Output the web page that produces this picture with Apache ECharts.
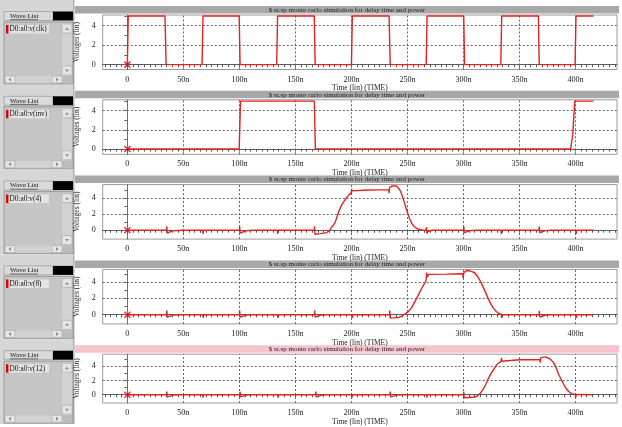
<!DOCTYPE html>
<html><head><meta charset="utf-8">
<script src="https://cdn.jsdelivr.net/npm/echarts@6/dist/echarts.min.js"></script>
<style>html,body{margin:0;padding:0;background:#fff}#c{width:622px;height:427px}</style>
</head><body><div id="c"></div>
<script>
// ---------- data ----------
const xTickValues = [0, 50, 100, 150, 200, 250, 300, 350, 400];
const yTickValues = [0, 2, 4];
const panelLabels = ['D0:a0:v(clk)', 'D0:a0:v(inv)', 'D0:a0:v(4)', 'D0:a0:v(8)', 'D0:a0:v(12)'];
const titleText = '$ sr.sp monte carlo simulation for delay time and power';
const xAxisName = 'Time (lin) (TIME)';
const yAxisName = 'Voltages (lin)';
const startMarker = [[0, 0]];

const clkWave = [[0,0],[0.8,5],[33.6,5],[34.6,0],[66.7,0],[67.5,5],[99.8,5],[100.6,0],[133.3,0],[134.1,5],
  [166.8,5],[167.6,0],[200,0],[200.8,5],[233.6,5],[234.6,0],[266.7,0],[267.5,5],[300.2,5],[301,0],
  [333.3,0],[334.1,5],[366.8,5],[367.6,0],[399.6,0],[400.4,5],[416,5]];

const invWave = [[0,0],[99.8,0],[101,5],[166.9,5],[167.8,0],[395.6,0],[397.5,1.5],[399.3,5],[416,5]];

const v4Wave = [[0,0],[35,0],[35.2,0.5],[35.6,-0.35],[37,-0.18],[40,-0.08],[45,-0.03],[50,0],
  [67.2,0],[67.5,-0.45],[67.8,0],
  [100,0],[100.2,0.5],[100.6,-0.35],[102,-0.18],[106,-0.06],[112,0],
  [133.8,0],[134.1,-0.45],[134.4,0],
  [166.8,0],[167,0.5],[167.4,-0.5],[172,-0.42],[178,-0.3],[181,0.1],[185.4,0.95],[188.4,2.2],
  [191.4,3.2],[195.3,4.0],[199.4,4.65],[199.9,4.4],[200.1,5.15],[200.6,4.9],[202,5.0],[215,5.0],
  [233.3,5.05],[233.6,4.6],[234,5.3],[236,5.5],[237.5,5.58],[240,5.5],[242,5.25],[244,4.8],
  [246,4.0],[248,3.1],[250,2.2],[252,1.4],[254,0.8],[256.5,0.4],[259,0.15],[263,0.05],
  [266.7,0],[267,0.4],[267.4,-0.4],[268.5,-0.12],[272,0],
  [300,0],[300.3,0.45],[300.7,-0.3],[302,-0.14],[306,-0.04],[311,0],
  [333.4,0],[333.7,-0.45],[334,0],
  [367.4,0],[367.6,0.45],[368,-0.3],[369.5,-0.14],[373,-0.04],[378,0],
  [400.3,0],[400.6,-0.45],[400.9,0],[416,0]];

const v8Wave = [[0,0],[35,0],[35.2,0.5],[35.6,-0.28],[37,-0.14],[41,-0.05],[46,0],
  [67.5,0],[67.8,-0.4],[68.1,0],
  [100,0],[100.2,0.5],[100.6,-0.28],[102,-0.14],[106,-0.05],[111,0],
  [134,0],[134.3,-0.4],[134.6,0],
  [167,0],[167.2,0.5],[167.6,-0.28],[169,-0.14],[173,-0.05],[178,0],
  [200.5,0],[200.8,-0.4],[201.1,0],
  [234,0],[234.2,0.5],[234.6,-0.42],[238,-0.38],[243,-0.3],[247.5,0.05],[250.5,0.35],
  [253.8,0.89],[257,1.7],[260,2.5],[263,3.3],[266.4,4.12],[266.8,4.45],[267.1,5.15],[267.5,4.6],
  [269,4.93],[285,4.96],[299.4,5.0],[299.7,4.45],[300.2,5.1],[302,5.35],[304,5.41],[307,5.3],
  [310,5.13],[312.5,4.7],[315,4.12],[317.5,3.4],[319.8,2.7],[322,2.0],[324.5,1.29],[327,0.75],
  [329.2,0.4],[331.5,0.15],[333.8,0.03],[334.1,-0.4],[334.4,0],
  [367.5,0],[367.7,0.45],[368.1,-0.28],[369.5,-0.14],[373,-0.05],[378,0],
  [400.4,0],[400.7,-0.4],[401,0],[416,0]];

const v12Wave = [[0,0],[35,0],[35.2,0.45],[35.6,-0.3],[37,-0.14],[41,-0.05],[46,0],
  [67.2,0],[67.5,-0.4],[67.8,0],
  [100.4,0],[100.6,0.45],[101,-0.3],[102.5,-0.14],[106,-0.05],[111,0],
  [134.2,0],[134.5,-0.4],[134.8,0],
  [168,0],[168.2,0.45],[168.6,-0.3],[170,-0.14],[174,-0.05],[179,0],
  [200.2,0],[200.5,-0.4],[200.8,0],
  [234.4,0],[234.6,0.45],[235,-0.3],[236.5,-0.14],[240,-0.05],[245,0],
  [267,0],[267.3,-0.4],[267.6,0],
  [300,0],[300.2,0.45],[300.6,-0.42],[305,-0.38],[310,-0.32],[312,-0.2],[315,0.2],[317.9,0.86],
  [320,1.5],[322.3,2.3],[324.5,2.95],[326.8,3.5],[329,4.05],[331.3,4.46],[333.5,4.6],[333.8,5.15],
  [334.3,4.7],[336,4.85],[350,4.9],[368.3,4.92],[368.5,4.5],[369,5.2],[370,5.42],[373,5.3],
  [375.5,5.15],[377.4,5.0],[379,4.75],[380.4,4.5],[382.6,3.8],[384.8,2.9],[387,2.2],[389.3,1.5],
  [391.5,0.9],[393.8,0.45],[396.5,0.15],[399.7,0.04],[400.2,-0.4],[400.6,0.05],[402,0],[416,0]];

const waves = [clkWave, invWave, v4Wave, v8Wave, v12Wave];
const yMins = [-0.5, -0.55, -1.1, -1.12, -1.16];
const yMaxs = [5.1, 5.14, 5.68, 5.54, 5.68];

// ---------- layout / style ----------
const FONT = 'Liberation Serif';
const PANEL_H = 84.8;
const RED = '#e02424';
const minorTicks = [];
for (let t = -20; t <= 435; t += 5) minorTicks.push(t);

const grids = [], xAxes = [], yAxes = [], series = [], graphics = [];

for (let i = 0; i < 5; i++) {
  const top = 15 + i * PANEL_H;
  grids.push({left: 102.7, top: top, width: 514.3, height: 54.5, show: true,
    borderColor: '#9a9a9a', borderWidth: 1, backgroundColor: '#fff'});
  xAxes.push({type: 'value', gridIndex: i, min: -22, max: 437,
    axisLine: {show: true, lineStyle: {color: '#555', width: 1}},
    axisTick: {show: true, customValues: minorTicks, length: 2.5, lineStyle: {color: '#555'}},
    axisLabel: {customValues: xTickValues, formatter: v => v === 0 ? '0' : v + 'n',
      fontSize: 8, fontFamily: FONT, color: '#222', margin: 6},
    splitLine: {show: false},
    name: xAxisName, nameLocation: 'middle', nameGap: 15,
    nameTextStyle: {fontSize: 7.5, fontFamily: FONT, color: '#222'}});
  yAxes.push({type: 'value', gridIndex: i, min: yMins[i], max: yMaxs[i],
    axisLine: {show: true, lineStyle: {color: '#777', width: 1}},
    axisTick: {show: true, customValues: [0, 1, 2, 3, 4, 5], length: 3, lineStyle: {color: '#666'}},
    axisLabel: {customValues: yTickValues, fontSize: 8, fontFamily: FONT, color: '#222', margin: 7},
    splitLine: {show: false},
    name: yAxisName, nameLocation: 'middle', nameGap: 21,
    nameTextStyle: {fontSize: 7.5, fontFamily: FONT, color: '#222'}});
  series.push({type: 'line', xAxisIndex: i, yAxisIndex: i, data: waves[i],
    symbol: 'none', showSymbol: false, animation: false, z: 3,
    lineStyle: {color: RED, width: 1.4},
    markLine: {silent: true, symbol: 'none', animation: false, z: 1,
      label: {show: false}, emphasis: {disabled: true},
      lineStyle: {type: [2, 2], color: '#666', width: 1},
      data: xTickValues.map(v => ({xAxis: v})).concat(yTickValues.map(v => ({yAxis: v})))}});
  series.push({type: 'scatter', xAxisIndex: i, yAxisIndex: i, data: startMarker,
    symbol: 'path://M0,0L10,10M10,0L0,10', symbolSize: 6, z: 5, animation: false, silent: true,
    itemStyle: {color: 'rgba(0,0,0,0)', borderColor: '#e00000', borderWidth: 1.5}});

  // header bar
  const hy = 6 + i * PANEL_H;
  graphics.push({type: 'rect', shape: {x: 75, y: hy, width: 544, height: 7.5},
    style: {fill: i === 4 ? '#f7c3cf' : '#a8a8a8'}, z: 0});
  graphics.push({type: 'text', x: 347, y: hy + 3.9,
    style: {text: titleText, font: '7px ' + FONT, fill: '#222', align: 'center', verticalAlign: 'middle'}, z: 1});

  // left wave list widget
  const g = {type: 'group', x: 0, y: i * PANEL_H, children: [
    {type: 'rect', shape: {x: 0, y: 0, width: 74, height: PANEL_H}, style: {fill: '#d6d6d6'}},
    {type: 'rect', shape: {x: 73, y: 0, width: 1.5, height: PANEL_H}, style: {fill: '#b0b0b0'}},
    {type: 'rect', shape: {x: 4, y: 11.5, width: 49, height: 9}, style: {fill: '#dadada', stroke: '#8a8a8a', lineWidth: 0.6}},
    {type: 'text', x: 10, y: 16, style: {text: 'Wave List', font: '7px ' + FONT, fill: '#111', verticalAlign: 'middle'}},
    {type: 'line', shape: {x1: 10, y1: 19.6, x2: 38, y2: 19.6}, style: {stroke: '#222', lineWidth: 0.6}},
    {type: 'rect', shape: {x: 53, y: 11.5, width: 20, height: 9}, style: {fill: '#000'}},
    {type: 'rect', shape: {x: 4, y: 22, width: 69, height: 62}, style: {fill: '#c6c6c6', stroke: '#7a7a7a', lineWidth: 0.6}},
    {type: 'rect', shape: {x: 6, y: 25, width: 43, height: 8.5}, style: {fill: '#e4e4e4'}},
    {type: 'rect', shape: {x: 6, y: 25, width: 2.5, height: 8.5}, style: {fill: '#e00000'}},
    {type: 'text', x: 9.5, y: 29.4, style: {text: panelLabels[i], font: '7.3px ' + FONT, fill: '#111', verticalAlign: 'middle'}},
    // vertical scrollbar
    {type: 'rect', shape: {x: 62, y: 23, width: 10, height: 53}, style: {fill: '#d2d2d2'}},
    {type: 'rect', shape: {x: 62, y: 24, width: 10, height: 9}, style: {fill: '#e6e6e6', stroke: '#9a9a9a', lineWidth: 0.5}},
    {type: 'polygon', shape: {points: [[65, 30], [69, 30], [67, 27.5]]}, style: {fill: '#8a8a8a'}},
    {type: 'rect', shape: {x: 62, y: 66, width: 10, height: 9}, style: {fill: '#e6e6e6', stroke: '#9a9a9a', lineWidth: 0.5}},
    {type: 'polygon', shape: {points: [[65, 69.5], [69, 69.5], [67, 72]]}, style: {fill: '#8a8a8a'}},
    // horizontal scrollbar
    {type: 'rect', shape: {x: 5, y: 76, width: 57, height: 7}, style: {fill: '#d2d2d2'}},
    {type: 'rect', shape: {x: 5, y: 76, width: 10, height: 7}, style: {fill: '#e6e6e6', stroke: '#9a9a9a', lineWidth: 0.5}},
    {type: 'polygon', shape: {points: [[11, 77.5], [11, 81.5], [8.5, 79.5]]}, style: {fill: '#8a8a8a'}},
    {type: 'rect', shape: {x: 52, y: 76, width: 10, height: 7}, style: {fill: '#e6e6e6', stroke: '#9a9a9a', lineWidth: 0.5}},
    {type: 'polygon', shape: {points: [[56, 77.5], [56, 81.5], [58.5, 79.5]]}, style: {fill: '#8a8a8a'}},
    {type: 'rect', shape: {x: 62, y: 76, width: 10, height: 7}, style: {fill: '#bcbcbc'}}
  ]};
  graphics.push(g);
}

const chart = echarts.init(document.getElementById('c'), null, {renderer: 'canvas'});
chart.setOption({
  backgroundColor: '#ffffff',
  animation: false,
  grid: grids, xAxis: xAxes, yAxis: yAxes, series: series,
  graphic: graphics
});
</script></body></html>
